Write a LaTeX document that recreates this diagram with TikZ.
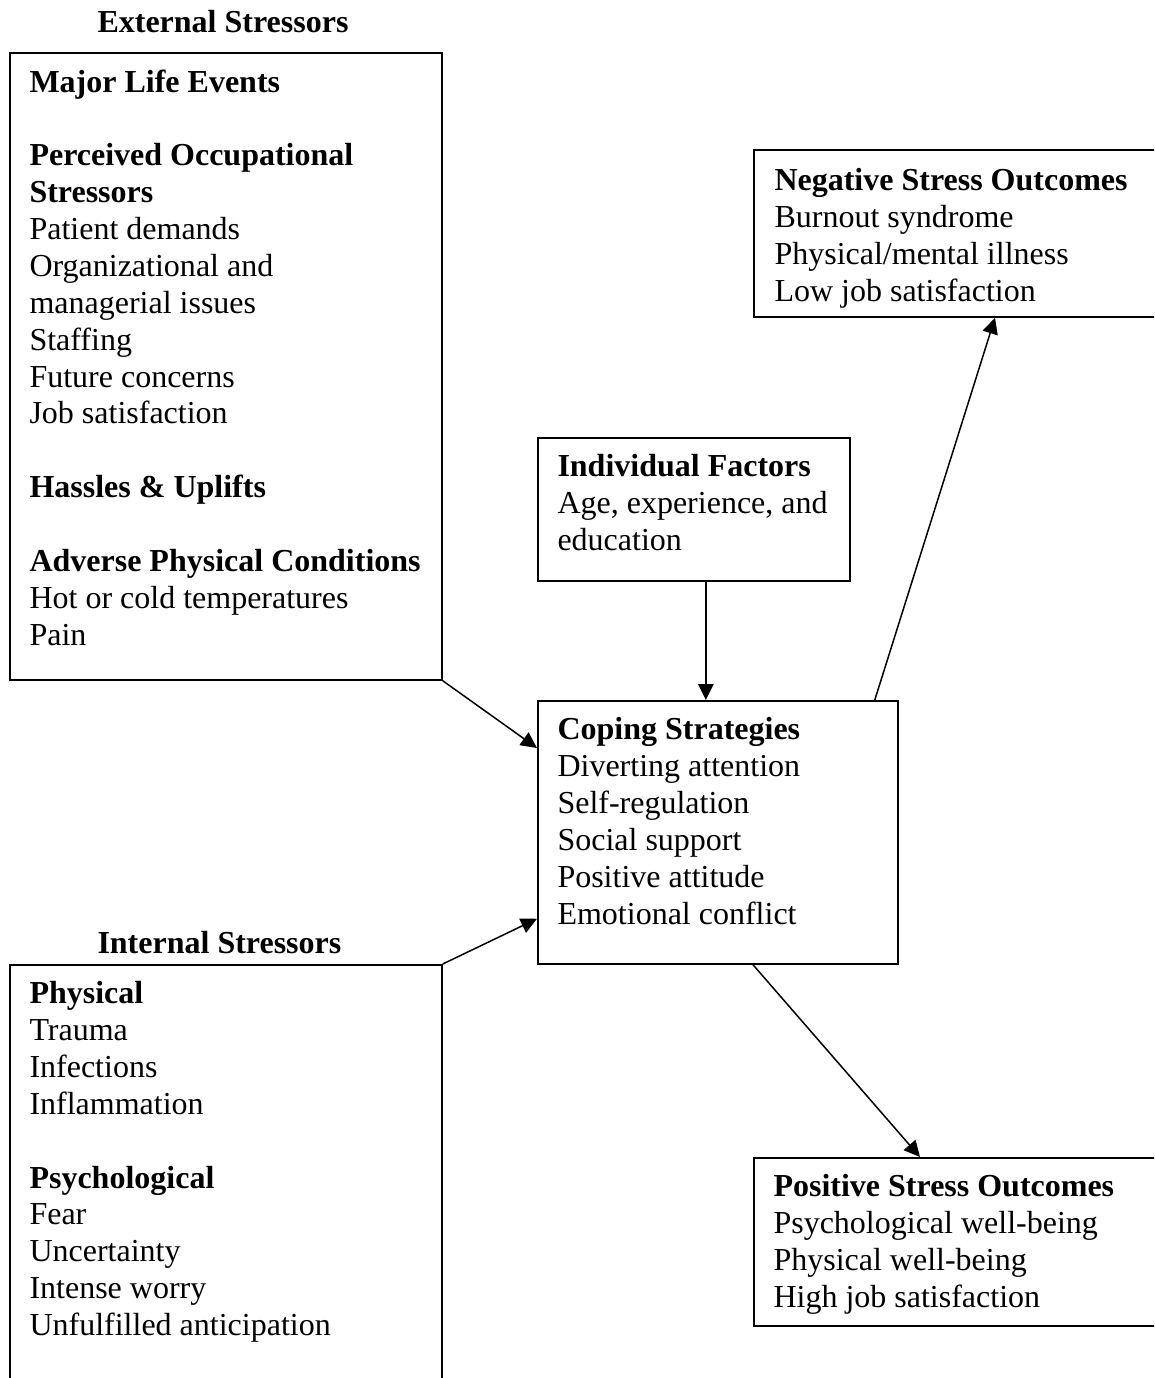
\documentclass[tikz,border=0pt]{standalone}
\usepackage{fontspec}
\setmainfont{Liberation Serif}
\usetikzlibrary{arrows.meta}
\tikzset{box/.style={draw,line width=0.7pt,inner sep=0pt,anchor=north west},
         txt/.style={anchor=north west,align=left,inner sep=0pt,font=\fontsize{12.8pt}{14.75pt}\selectfont},
         ttl/.style={anchor=base west,inner sep=0pt,font=\fontsize{12.8pt}{14.75pt}\selectfont\bfseries},
         arr/.style={line width=0.6pt,-{Triangle[length=6.4pt,width=6.2pt]}}}

\begin{document}
\begin{tikzpicture}[x=0.4pt,y=-0.4pt]
    \useasboundingbox (0,0) rectangle (1154,1378);
    \clip (0,0) rectangle (1154,1378);
    % boxes
    \node[box,minimum width=172.8pt,minimum height=250.8pt] (ext) at (9,52) {};
    \node[box,minimum width=172.8pt,minimum height=170.4pt] (int) at (9,964) {};
    \node[box,minimum width=124.8pt,minimum height=57.2pt] (indiv) at (537,437) {};
    \node[box,minimum width=144pt,minimum height=105.2pt] (cope) at (537,700) {};
    \node[box,minimum width=164.8pt,minimum height=66.8pt] (neg) at (753,149) {};
    \node[box,minimum width=164.8pt,minimum height=67.2pt] (pos) at (753,1157) {};
    % titles
    \node[ttl] (ext-title) at ([shift={(88,-19)}]ext.north west) {External Stressors};
    \node[ttl] (int-title) at ([shift={(88,-11)}]int.north west) {Internal Stressors};
    % texts
    \node[txt] (ext-t) at ([shift={(20,17)}]ext.north west) {\textbf{Major Life Events}\\[14.75pt]
      \textbf{Perceived Occupational}\\
      \textbf{Stressors}\\
      Patient demands\\
      Organizational and\\
      managerial issues\\
      Staffing\\
      Future concerns\\
      Job satisfaction\\[14.75pt]
      \textbf{Hassles \& Uplifts}\\[14.75pt]
      \textbf{Adverse Physical Conditions}\\
      Hot or cold temperatures\\
      Pain};
    \node[txt] (int-t) at ([shift={(20,17)}]int.north west) {\textbf{Physical}\\
      Trauma\\
      Infections\\
      Inflammation\\[14.75pt]
      \textbf{Psychological}\\
      Fear\\
      Uncertainty\\
      Intense worry\\
      Unfulfilled anticipation};
    \node[txt] (indiv-t) at ([shift={(20,17)}]indiv.north west) {\textbf{Individual Factors}\\
      Age, experience, and\\
      education};
    \node[txt] (cope-t) at ([shift={(20,17)}]cope.north west) {\textbf{Coping Strategies}\\
      Diverting attention\\
      Self-regulation\\
      Social support\\
      Positive attitude\\
      Emotional conflict};
    \node[txt] (neg-t) at ([shift={(21,19)}]neg.north west) {\textbf{Negative Stress Outcomes}\\
      Burnout syndrome\\
      Physical/mental illness\\
      Low job satisfaction};
    \node[txt] (pos-t) at ([shift={(20,17)}]pos.north west) {\textbf{Positive Stress Outcomes}\\
      Psychological well-being\\
      Physical well-being\\
      High job satisfaction};
    % arrows
    \draw[arr] (ext.south east) -- ([shift={(0,48)}]cope.north west);
    \draw[arr] (int.north east) -- ([shift={(0,-46)}]cope.south west);
    \draw[arr] ([shift={(12,0)}]indiv.south) -- ([shift={(12,0)}]indiv.south |- cope.north);
    \draw[arr] ([shift={(-24,0)}]cope.north east) -- ([shift={(242,0)}]neg.south west);
    \draw[arr] ([shift={(216,0)}]cope.south west) -- ([shift={(167,0)}]pos.north west);
\end{tikzpicture}
\end{document}
